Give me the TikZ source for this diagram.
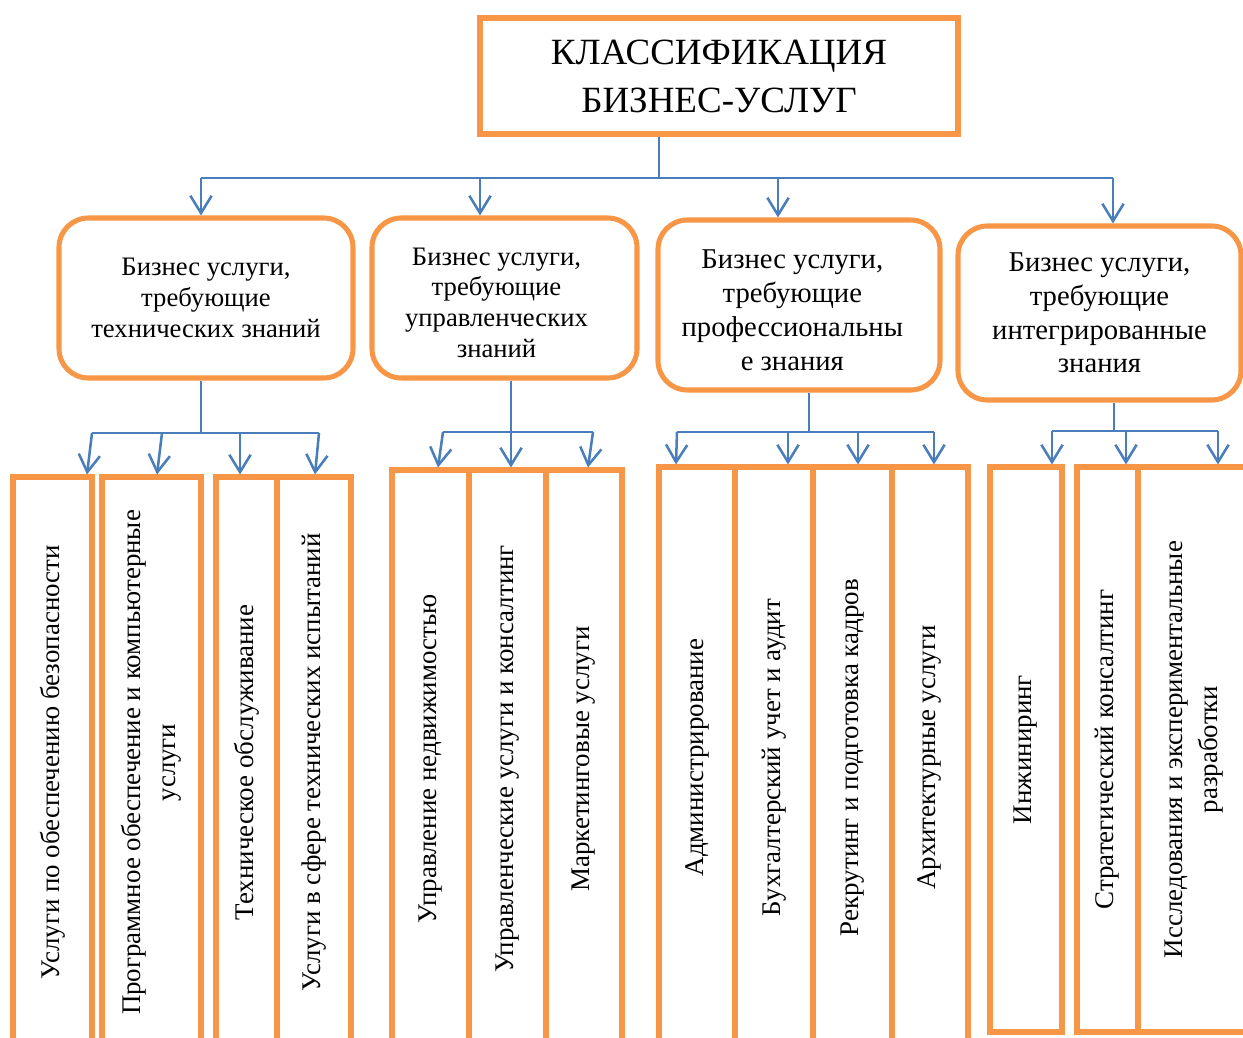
\documentclass[tikz,border=0pt]{standalone}
\usepackage{fontspec}
\setmainfont{Liberation Serif}
\usetikzlibrary{arrows.meta}
\definecolor{boxorange}{HTML}{F79646}
\definecolor{linkblue}{HTML}{4A7EBB}
\newcommand\pxu{0.75pt}
% trailing padding that nudges a centred line to the left
\newcommand\padr[1]{\mbox{\hspace*{#1}}}

\begin{document}
\begin{tikzpicture}[x=0.75pt,y=-0.75pt,
  orangebox/.style={draw=boxorange, line width=3.8pt, inner sep=0pt, align=center},
  headbox/.style={orangebox, font=\fontsize{27.75pt}{36pt}\selectfont},
  grpbox/.style={orangebox, rounded corners=22pt, font=\fontsize{20pt}{23pt}\selectfont},
  grpboxl/.style={grpbox, font=\fontsize{21.5pt}{25.3pt}\selectfont},
  cellbox/.style={orangebox, rotate=90, font=\fontsize{20.2pt}{26pt}\selectfont},
  link/.style={draw=linkblue, line width=1.9pt},
  arr/.style={link, -{Straight Barb[length=13pt,width=16pt]}}]

\useasboundingbox (0,0) rectangle (1243,1038);
\clip (0,0) rectangle (1243,1038);

% title
\node[headbox, minimum width={478*\pxu}, minimum height={116*\pxu}] (head) at (719,76)
  {КЛАССИФИКАЦИЯ\\БИЗНЕС-УСЛУГ};

% four groups (the text of the middle two sits a little left of centre)
\node[grpbox, minimum width={294*\pxu}, minimum height={160*\pxu}] (b1) at (206,298)
  {Бизнес услуги,\\требующие\\технических знаний};
\node[grpbox, minimum width={265*\pxu}, minimum height={160*\pxu}] (b2) at (504.5,298)
  {\rule{0pt}{20pt}Бизнес услуги,\padr{12pt}\\требующие\padr{12pt}\\управленческих\padr{12pt}\\знаний\padr{12pt}};
\node[grpboxl, minimum width={282*\pxu}, minimum height={170*\pxu}] (b3) at (799,305)
  {\rule{0pt}{22pt}Бизнес услуги,\padr{10pt}\\требующие\padr{10pt}\\профессиональны\padr{10pt}\\е знания\padr{10pt}};
\node[grpboxl, minimum width={283*\pxu}, minimum height={174*\pxu}] (b4) at (1099.5,313)
  {Бизнес услуги,\\требующие\\интегрированные\\знания};

% cells, group 1
\node[cellbox, minimum width={571*\pxu}, minimum height={79*\pxu}] (c11) at (52.5,762.5)
  {Услуги по обеспечению безопасности};
\node[cellbox, minimum width={571*\pxu}, minimum height={99*\pxu}] (c12) at (151.5,762.5)
  {Программное обеспечение и компьютерные\\услуги};
\node[cellbox, minimum width={571*\pxu}, minimum height={61*\pxu}] (c13) at (246.5,762.5)
  {Техническое обслуживание};
\node[cellbox, minimum width={571*\pxu}, minimum height={74*\pxu}] (c14) at (314,762.5)
  {Услуги в сфере технических испытаний};

% cells, group 2
\node[cellbox, minimum width={578*\pxu}, minimum height={77*\pxu}] (c21) at (430.5,759)
  {Управление недвижимостью};
\node[cellbox, minimum width={578*\pxu}, minimum height={77*\pxu}] (c22) at (507.5,759)
  {Управленческие услуги и консалтинг};
\node[cellbox, minimum width={578*\pxu}, minimum height={76*\pxu}] (c23) at (584,759)
  {Маркетинговые услуги};

% cells, group 3
\node[cellbox, minimum width={581*\pxu}, minimum height={76*\pxu}] (c31) at (697,757.5)
  {Администрирование};
\node[cellbox, minimum width={581*\pxu}, minimum height={78*\pxu}] (c32) at (774,757.5)
  {Бухгалтерский учет и аудит};
\node[cellbox, minimum width={581*\pxu}, minimum height={79*\pxu}] (c33) at (852.5,757.5)
  {Рекрутинг и подготовка кадров};
\node[cellbox, minimum width={581*\pxu}, minimum height={76*\pxu}] (c34) at (930,757.5)
  {Архитектурные услуги};

% cells, group 4
\node[cellbox, minimum width={565*\pxu}, minimum height={72*\pxu}] (c41) at (1026,749.5)
  {Инжиниринг};
\node[cellbox, minimum width={565*\pxu}, minimum height={61*\pxu}] (c42) at (1107.5,749.5)
  {Стратегический консалтинг};
\node[cellbox, minimum width={565*\pxu}, minimum height={112*\pxu}] (c43) at (1194,749.5)
  {Исследования и экспериментальные\\разработки};

% top level connectors
\coordinate (hub) at (659,178);
\coordinate (s1) at (201,178);
\coordinate (s2) at (480,178);
\coordinate (s3) at (778,178);
\coordinate (s4) at (1113,178);
\draw[link] (hub |- head.south) -- (hub);
\draw[link] (s1) -- (s4);
\draw[arr] (s1) -- (s1 |- b1.north);
\draw[arr] (s2) -- (s2 |- b2.north);
\draw[arr] (s3) -- (s3 |- b3.north);
\draw[arr] (s4) -- (s4 |- b4.north);

% group 1 connectors
\coordinate (g1) at (201,433);
\coordinate (g1a) at (92,433);
\coordinate (g1b) at (162,433);
\coordinate (g1c) at (240,433);
\coordinate (g1d) at (319,433);
\draw[link] (g1 |- b1.south) -- (g1);
\draw[link] (g1a) -- (g1d);
\draw[arr] (g1a) -- (87,0 |- c11.east);
\draw[arr] (g1b) -- (157,0 |- c12.east);
\draw[arr] (g1c) -- (240,0 |- c13.east);
\draw[arr] (g1d) -- (315,0 |- c14.east);

% group 2 connectors
\coordinate (g2) at (511,432);
\coordinate (g2a) at (443,432);
\coordinate (g2b) at (511,432);
\coordinate (g2c) at (593,432);
\draw[link] (g2 |- b2.south) -- (g2);
\draw[link] (g2a) -- (g2c);
\draw[arr] (g2a) -- (438,0 |- c21.east);
\draw[arr] (g2b) -- (511,0 |- c22.east);
\draw[arr] (g2c) -- (588,0 |- c23.east);

% group 3 connectors
\coordinate (g3) at (809,432);
\coordinate (g3a) at (677,432);
\coordinate (g3b) at (788,432);
\coordinate (g3c) at (858,432);
\coordinate (g3d) at (934,432);
\draw[link] (g3 |- b3.south) -- (g3);
\draw[link] (g3a) -- (g3d);
\draw[arr] (g3a) -- (676,0 |- c31.east);
\draw[arr] (g3b) -- (788,0 |- c32.east);
\draw[arr] (g3c) -- (858,0 |- c33.east);
\draw[arr] (g3d) -- (934,0 |- c34.east);

% group 4 connectors
\coordinate (g4) at (1114,431);
\coordinate (g4a) at (1052,431);
\coordinate (g4b) at (1126,431);
\coordinate (g4c) at (1218,431);
\draw[link] (g4 |- b4.south) -- (g4);
\draw[link] (g4a) -- (g4c);
\draw[arr] (g4a) -- (g4a |- c41.east);
\draw[arr] (g4b) -- (g4b |- c42.east);
\draw[arr] (g4c) -- (g4c |- c43.east);

\end{tikzpicture}
\end{document}
